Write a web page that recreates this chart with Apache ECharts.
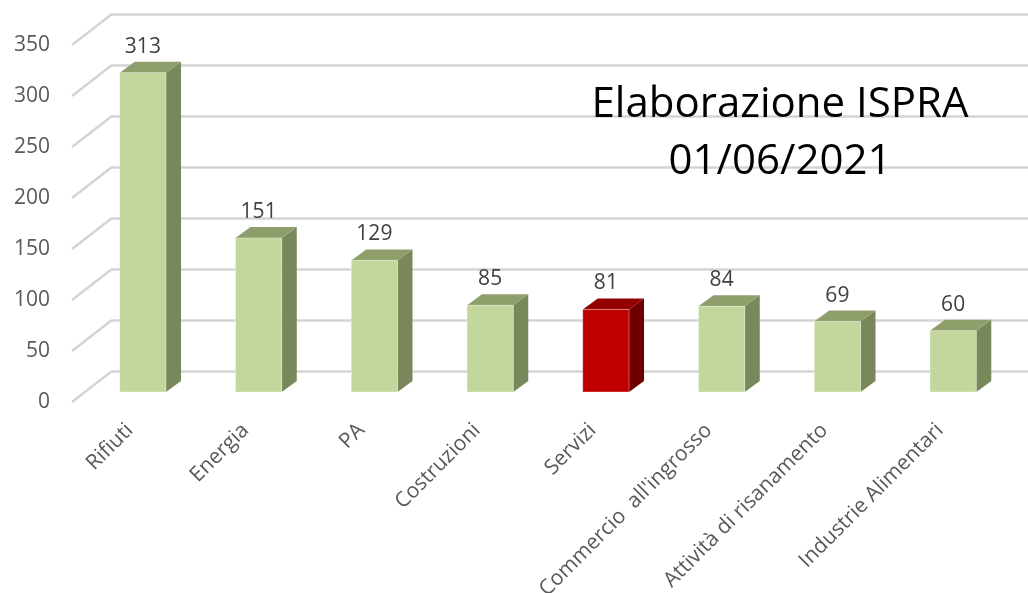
<!DOCTYPE html>
<html>
<head>
<meta charset="utf-8">
<script src="https://cdn.jsdelivr.net/npm/echarts@6/dist/echarts.min.js"></script>
<style>
  html, body { margin: 0; padding: 0; background: #fff; }
  #chart { width: 1028px; height: 593px; }
</style>
</head>
<body>
<div id="chart"></div>
<script>
// dati
const categories = ['Rifiuti', 'Energia', 'PA', 'Costruzioni', 'Servizi', "Commercio  all'ingrosso", 'Attività di risanamento', 'Industrie Alimentari']
const values = [313, 151, 129, 85, 81, 84, 69, 60]
const yTicks = [0, 50, 100, 150, 200, 250, 300, 350]

const highlight = 'Servizi'
const FONT = '"Open Sans", sans-serif'

// profondità della barra 3D
const DEPTH = [15, -11]
// spostamento muro di fondo -> piano frontale
const WALL = [-40, 31]

const green = { front: '#c3d69b', top: '#8e9f6b', side: '#78885a' }
const red = { front: '#c00000', top: '#930000', side: '#6c0000' }

const chart = echarts.init(document.getElementById('chart'))

const option = {
  backgroundColor: '#ffffff',
  animation: false,
  title: {
    text: 'Elaborazione ISPRA\n01/06/2021',
    left: 775,
    top: 72,
    textAlign: 'center',
    textStyle: {
      fontFamily: FONT,
      fontSize: 42,
      fontWeight: 'normal',
      color: '#000',
      lineHeight: 57
    }
  },
  grid: [
    // muro di fondo
    { left: 112, right: 0, top: 14, bottom: 222, outerBoundsMode: 'none' },
    // piano frontale (etichette)
    { left: 72, right: 30, top: 45, bottom: 191, outerBoundsMode: 'none' },
    // piano barre
    { left: 85, right: 17, top: 35, bottom: 201, outerBoundsMode: 'none' }
  ],
  xAxis: [
    { gridIndex: 0, type: 'value', min: 0, max: 1, show: false },
    {
      gridIndex: 1,
      type: 'category',
      data: categories,
      axisLine: { show: false },
      axisTick: { show: false },
      axisLabel: {
        rotate: 45,
        margin: 25,
        interval: 0,
        fontFamily: FONT,
        fontSize: 21,
        color: '#595959'
      }
    },
    { gridIndex: 2, type: 'category', data: categories, show: false }
  ],
  yAxis: [
    {
      gridIndex: 0,
      type: 'value',
      min: 0,
      max: 350,
      interval: 50,
      axisLine: { show: false },
      axisTick: { show: false },
      axisLabel: { show: false },
      splitLine: { lineStyle: { color: '#d4d4d4', width: 2.5 } }
    },
    {
      gridIndex: 1,
      type: 'value',
      min: 0,
      max: 350,
      interval: 50,
      axisLine: { show: false },
      axisTick: { show: false },
      splitLine: { show: false },
      axisLabel: {
        margin: 22,
        fontFamily: FONT,
        fontSize: 21,
        color: '#595959'
      }
    },
    { gridIndex: 2, type: 'value', min: 0, max: 350, show: false }
  ],
  series: [
    {
      // linee diagonali verso il piano frontale
      type: 'custom',
      xAxisIndex: 0,
      yAxisIndex: 0,
      silent: true,
      data: yTicks.map(v => [0, v]),
      renderItem: (params, api) => {
        const p = api.coord([0, api.value(1)])
        return {
          type: 'line',
          shape: { x1: p[0], y1: p[1], x2: p[0] + WALL[0], y2: p[1] + WALL[1] },
          style: { stroke: '#d4d4d4', lineWidth: 2.5 }
        }
      }
    },
    {
      type: 'custom',
      xAxisIndex: 2,
      yAxisIndex: 2,
      data: values.map((v, i) => [i, v]),
      renderItem: (params, api) => {
        const i = api.value(0)
        const v = api.value(1)
        const top = api.coord([i, v])
        const base = api.coord([i, 0])
        const w = api.size([1, 0])[0] * 0.4
        const x = top[0] - w / 2
        const y = top[1]
        const c = categories[i] === highlight ? red : green
        const [dx, dy] = DEPTH
        return {
          type: 'group',
          children: [
            {
              type: 'polygon',
              shape: { points: [[x + w, y], [x + w + dx, y + dy], [x + w + dx, base[1] + dy], [x + w, base[1]]] },
              style: { fill: c.side }
            },
            {
              type: 'polygon',
              shape: { points: [[x, y], [x + w, y], [x + w + dx, y + dy], [x + dx, y + dy]] },
              style: { fill: c.top }
            },
            {
              type: 'rect',
              shape: { x: x, y: y, width: w, height: base[1] - y },
              style: { fill: c.front, stroke: 'rgba(255,255,255,0.35)', lineWidth: 1 }
            },
            {
              type: 'text',
              style: {
                text: String(v),
                x: top[0],
                y: y + dy - 15,
                align: 'center',
                verticalAlign: 'middle',
                font: '21px ' + FONT,
                fill: '#404040'
              }
            }
          ]
        }
      }
    }
  ]
}

chart.setOption(option)
window.addEventListener('resize', () => chart.resize())
</script>
</body>
</html>
